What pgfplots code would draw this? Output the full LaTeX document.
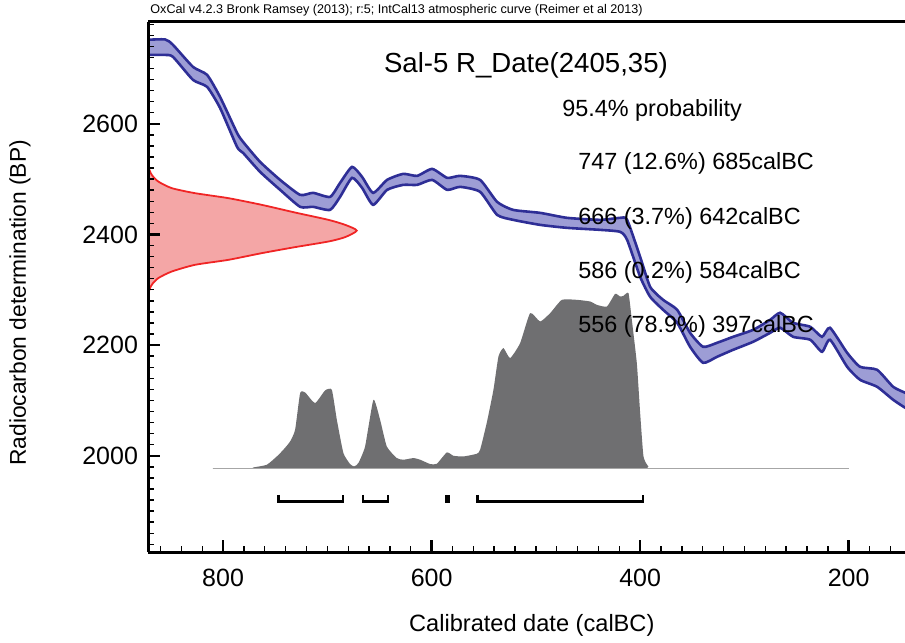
\documentclass[border=0pt]{standalone}
\usepackage{fontspec}
\setmainfont{Liberation Sans}
\usepackage{pgfplots}
\pgfplotsset{compat=1.18}
\usepgfplotslibrary{fillbetween}
\definecolor{calLine}{HTML}{2E2E96}
\definecolor{calFill}{HTML}{9D9DD5}
\definecolor{rdLine}{HTML}{F02525}
\definecolor{rdFill}{HTML}{F4A6A6}
\definecolor{postFill}{HTML}{6F6F71}

\begin{document}
\begin{tikzpicture}
\begin{axis}[
  set layers, axis on top,
  scale only axis,
  width=378.5pt, height=265pt,
  x dir=reverse,
  xmin=146, xmax=872, ymin=1826, ymax=2784,
  axis x line=bottom, axis y line=left,
  axis line style={-, line width=1.5pt},
  xtick pos=left, ytick pos=left,
  tick align=inside,
  xtick={200,400,600,800}, ytick={2000,2200,2400,2600},
  minor xtick={160,180,...,860}, minor ytick={1840,1860,...,2780},
  major tick length=6pt, minor tick length=3pt,
  every major tick/.append style={line width=1.2pt, black},
  every minor tick/.append style={line width=0.7pt, black},
  /pgf/number format/assume math mode=true,
  /pgf/number format/1000 sep={},
  tick label style={font=\fontsize{12.5}{15}\selectfont},
  xticklabel style={yshift=-5pt},
  yticklabel style={xshift=-1.5pt},
  xlabel={Calibrated date (calBC)},
  ylabel={Radiocarbon determination (BP)},
  xlabel style={font=\fontsize{11.8}{14}\selectfont, at={(axis description cs:0.507,-0.138)}, anchor=center},
  ylabel style={font=\fontsize{11.4}{14}\selectfont, at={(axis description cs:-0.169,0.47)}, anchor=center},
]

% IntCal13 band, upper and lower edge
\addplot[name path=calup, calLine, line width=1.3pt, smooth, tension=0.35] coordinates {
  (875,2751.6) (855.6,2752.5) (848.0,2742.6) (828.8,2702.8) (815.3,2688.4)
  (802.9,2648.6) (786.6,2583.6) (780.8,2567.3) (764.5,2531.2) (745.3,2498.6)
  (726.1,2471.5) (713.7,2475.2) (697.4,2467.9) (687.8,2493.2) (676.3,2522.1)
  (666.7,2504.1) (656.1,2475.2) (642.7,2498.6) (627.3,2509.5) (613.9,2505.9)
  (599.5,2518.5) (585.1,2502.3) (572.7,2505.9) (553.5,2498.6) (537.2,2458.9)
  (521.8,2444.4) (495.9,2439.0) (470.0,2430.0) (438.4,2426.4) (419.2,2430.0)
  (412.5,2426.4) (400.0,2359.5) (390.4,2305.3) (378.0,2281.8) (364.5,2263.8)
  (352.1,2222.2) (339.6,2196.9) (326.2,2204.2) (310.8,2215.0) (291.6,2227.6)
  (275.3,2245.7) (265.7,2258.4) (253.3,2240.3) (236.9,2233.1) (225.6,2215.0)
  (217.9,2231.3) (201.5,2186.1) (189.1,2160.8) (172.8,2155.4) (157.4,2124.7)
  (145.8,2113.8) (141,2110)
};
\addplot[name path=callo, calLine, line width=1.3pt, smooth, tension=0.35] coordinates {
  (875,2724.5) (855.6,2724.5) (848.0,2720.9) (828.8,2679.3) (815.3,2666.7)
  (802.9,2628.7) (786.6,2558.3) (780.8,2547.4) (764.5,2513.1) (745.3,2480.6)
  (726.1,2449.9) (713.7,2449.9) (697.4,2444.4) (687.8,2467.9) (676.3,2502.3)
  (666.7,2484.2) (656.1,2453.5) (642.7,2480.6) (627.3,2489.6) (613.9,2489.6)
  (599.5,2498.6) (585.1,2480.6) (572.7,2486.0) (553.5,2477.0) (537.2,2435.4)
  (521.8,2426.4) (495.9,2417.3) (470.0,2411.9) (438.4,2408.3) (419.2,2404.7)
  (412.5,2390.2) (400.0,2323.4) (390.4,2287.3) (378.0,2263.8) (364.5,2240.3)
  (352.1,2196.9) (339.6,2168.0) (326.2,2178.9) (310.8,2191.5) (291.6,2206.0)
  (275.3,2222.2) (265.7,2231.3) (253.3,2215.0) (236.9,2209.6) (225.6,2187.9)
  (217.9,2209.6) (201.5,2160.8) (189.1,2137.3) (172.8,2124.7) (157.4,2101.2)
  (145.8,2086.7) (141,2083)
};
\addplot[calFill] fill between[of=calup and callo];

% radiocarbon date 2405 +- 35 on the y axis
\addplot[draw=rdLine, line width=0.9pt, fill=rdFill, smooth, tension=0.4] coordinates {
  (873,2270) (871.7,2294.0) (868.4,2308.9) (862.1,2321.1) (849.2,2333.0)
  (826.9,2345.1) (794.9,2354.1) (762.9,2366.2) (730.9,2377.1) (699.0,2387.2)
  (683.0,2395.1) (671.8,2407.0) (683.0,2417.4) (699.0,2426.4) (730.9,2439.6)
  (762.9,2453.5) (794.9,2465.6) (826.9,2474.6) (849.2,2483.7) (862.1,2495.6)
  (868.4,2507.7) (871.7,2522.6) (873,2545)
};

% calibrated distribution
\addplot[draw=none, fill=postFill, smooth, tension=0.3] coordinates {
  (810,1977) (774.1,1977) (770.9,1978.9) (758.1,1983.7) (748.5,1998.7)
  (742.2,2010.8) (735.7,2025.8) (730.9,2047.0) (726.1,2113.3) (721.3,2114.4)
  (711.8,2095.2) (702.2,2118.0) (695.7,2119.2) (690.9,2065.0) (684.6,2004.9)
  (678.2,1985.0) (674.3,1980.7) (670.2,1986.8) (663.8,2016.8) (655.8,2101.2)
  (649.4,2065.0) (643.0,2016.8) (633.4,1995.8) (627.1,1992.8) (617.5,1995.8)
  (611.0,1992.8) (601.4,1985.0) (595.0,1985.5) (585.4,2006.0) (579.1,2000.0)
  (569.5,1998.7) (556.7,2003.6) (553.5,2010.8) (547.1,2059.6) (540.7,2119.2)
  (535.9,2179.4) (531.1,2194.6) (524.7,2176.5) (515.1,2203.6) (505.5,2257.8)
  (495.9,2242.6) (486.3,2257.8) (475.1,2281.8) (460.7,2281.8) (447.9,2278.8)
  (441.6,2272.8) (431.9,2269.7) (424.0,2292.7) (419.2,2287.8) (416.0,2289.1)
  (411.2,2293.9) (408.0,2245.7) (403.2,2167.5) (400.0,2077.1) (396.8,1998.7)
  (392.0,1980.7) (384.0,1977) (200,1977)
};
\addplot[gray!70, line width=0.6pt] coordinates {(810,1977) (200,1977)};

% 95.4% ranges
\addplot[black, line width=1.2pt] coordinates {(747,1929.5) (747,1917) (685,1917) (685,1929.5)};
\addplot[black, line width=1.2pt] coordinates {(666,1929.5) (666,1917) (642,1917) (642,1929.5)};
\addplot[black, line width=1.2pt] coordinates {(586,1929.5) (586,1917) (584,1917) (584,1929.5)};
\addplot[black, line width=1.2pt] coordinates {(556,1929.5) (556,1917) (397,1917) (397,1929.5)};

\node[font=\fontsize{13.8}{16}\selectfont] at (rel axis cs:0.4993,0.919) {Sal-5 R\_Date(2405,35)};
\node[font=\fontsize{11.7}{14}\selectfont] at (rel axis cs:0.666,0.834) {95.4\% probability};
\node[anchor=west, inner sep=0pt, font=\fontsize{11.7}{14}\selectfont] at (rel axis cs:0.568,0.734) {747 (12.6\%) 685calBC};
\node[anchor=west, inner sep=0pt, font=\fontsize{11.7}{14}\selectfont] at (rel axis cs:0.568,0.630) {666 (3.7\%) 642calBC};
\node[anchor=west, inner sep=0pt, font=\fontsize{11.7}{14}\selectfont] at (rel axis cs:0.568,0.528) {586 (0.2\%) 584calBC};
\node[anchor=west, inner sep=0pt, font=\fontsize{11.7}{14}\selectfont] at (rel axis cs:0.568,0.426) {556 (78.9\%) 397calBC};
\end{axis}
\draw[line width=1.5pt] (current axis.north west) -- (current axis.north east);
\node[anchor=west, inner sep=0pt, font=\fontsize{6.3}{7}\selectfont] at ([xshift=1pt,yshift=6pt]current axis.north west)
  {OxCal v4.2.3 Bronk Ramsey (2013); r:5; IntCal13 atmospheric curve (Reimer et al 2013)};
\pgfresetboundingbox
\path ([xshift=-74pt,yshift=-45pt]current axis.south west) rectangle ([yshift=11pt]current axis.north east);
\end{tikzpicture}
\end{document}
